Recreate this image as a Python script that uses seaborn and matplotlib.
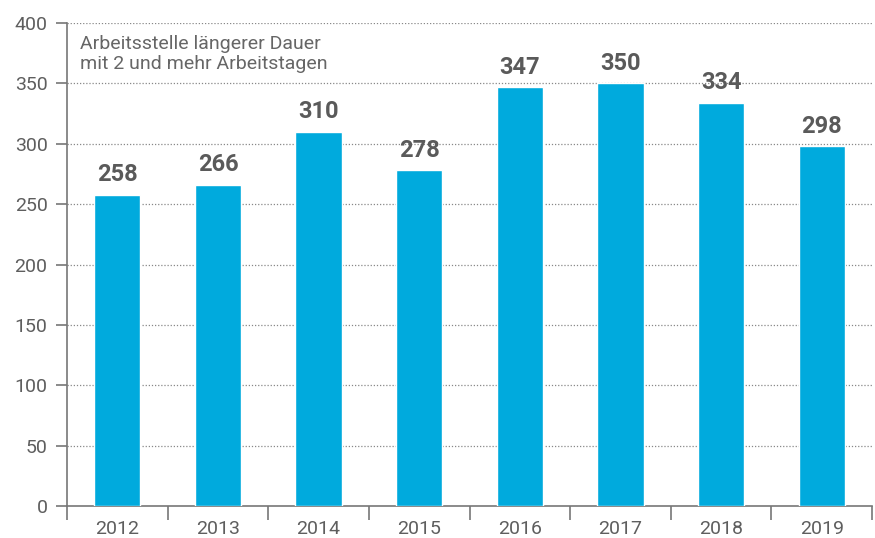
import matplotlib
matplotlib.use("Agg")
import matplotlib.pyplot as plt
import seaborn as sns
import pandas as pd
import numpy as np

years = ["2012", "2013", "2014", "2015", "2016", "2017", "2018", "2019"]
values = [258, 266, 310, 278, 347, 350, 334, 298]
yticks = [0, 50, 100, 150, 200, 250, 300, 350, 400]
note = "Arbeitsstelle längerer Dauer\nmit 2 und mehr Arbeitstagen"

sns.set_theme(style="white")
plt.rcParams['font.family'] = ['Roboto', 'DejaVu Sans']

df = pd.DataFrame({"year": years, "value": values})
fig = plt.figure(figsize=(8.75, 5.38), dpi=100)
ax = fig.add_axes([0.0766, 0.0595, 0.92, 0.8975])

sns.barplot(data=df, x="year", y="value", color="#00AADD", saturation=1,
            width=0.46, ax=ax, zorder=3)

ax.set_ylim(0, 400)
ax.set_xlim(-0.5, len(years) - 0.5)
ax.set_yticks(yticks)
ax.set_yticklabels([str(t) for t in yticks])
ax.set_xlabel("")
ax.set_ylabel("")

for y in yticks[1:]:
    ax.axhline(y, color="#888888", lw=0.9, ls=(0, (1, 1.5)), zorder=1)

for spine in ["top", "right"]:
    ax.spines[spine].set_visible(False)
for spine in ["left", "bottom"]:
    ax.spines[spine].set_color("#777777")
    ax.spines[spine].set_linewidth(1.2)

ax.tick_params(axis="x", which="major", length=0, labelsize=14, labelcolor="#5e5e5e", pad=10)
ax.set_xticks(np.arange(-0.5, len(years), 1), minor=True)
ax.tick_params(axis="x", which="minor", bottom=True, length=10, width=1.2,
               color="#777777", direction="out")
ax.tick_params(axis="y", length=8, width=1.2, color="#777777", labelsize=14,
               labelcolor="#5e5e5e", left=True, pad=6)

for i, v in enumerate(values):
    ax.text(i, v + 7, str(v), ha="center", va="bottom", fontsize=17,
            fontweight="bold", color="#5a5a5a")

ax.text(0.016, 0.975, note, transform=ax.transAxes, ha="left", va="top",
        fontsize=14, color="#666666", linespacing=1.15, zorder=5,
        bbox=dict(facecolor="white", edgecolor="none", pad=1))

fig.savefig("out.png", dpi=100)
